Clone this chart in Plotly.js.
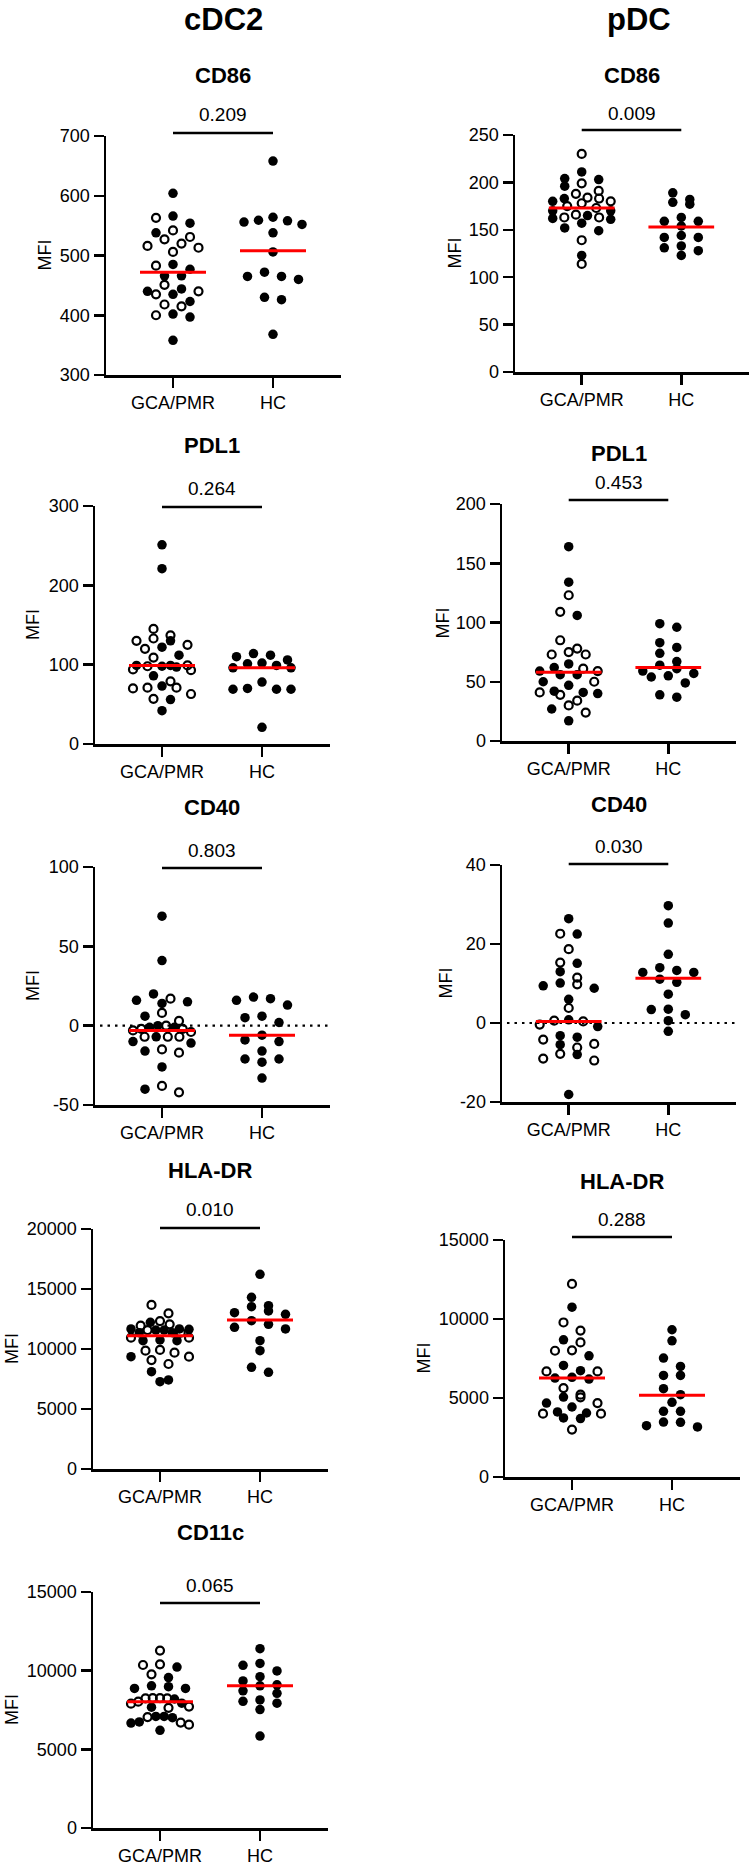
<!DOCTYPE html>
<html>
<head>
<meta charset="utf-8">
<script src="https://cdn.plot.ly/plotly-3.0.1.min.js"></script>
<style>body{margin:0;background:#fff}</style>
</head>
<body>
<div id="chart" style="width:754px;height:1866px"></div>
<script>
// group names on the x axis
var groups = ["GCA/PMR", "HC"];

// cDC2 CD86 (GCA/PMR split into filled and open symbols)
var cdc2_cd86_fill = [604, 566, 554, 538, 485, 477, 466, 466, 444, 440, 435, 423, 402, 397, 358];
var cdc2_cd86_open = [563, 542, 531, 527, 520, 516, 513, 506, 483, 451, 440, 435, 418, 415, 400];
var cdc2_cd86_hc = [658, 564, 559, 558, 556, 552, 538, 506, 472, 465, 465, 460, 430, 426, 368];
var cdc2_cd86_med = [472, 508];

// pDC CD86
var pdc_cd86_fill = [211, 204, 203, 196, 183, 180, 170, 170, 165, 162, 161, 157, 152, 149, 123];
var pdc_cd86_open = [230, 199, 191, 188, 184, 183, 180, 178, 175, 173, 166, 163, 163, 139, 114];
var pdc_cd86_hc = [189, 182, 179, 177, 163, 159, 159, 154, 144, 142, 142, 133, 131, 128, 123];
var pdc_cd86_med = [173, 153];

// cDC2 PDL1
var cdc2_pdl1_fill = [251, 221, 130, 122, 112, 99, 99, 98, 97, 86, 73, 56, 42];
var cdc2_pdl1_open = [145, 137, 133, 130, 125, 120, 109, 99, 98, 94, 93, 79, 71, 71, 70, 63, 57];
var cdc2_pdl1_hc = [114, 112, 110, 106, 102, 101, 99, 96, 96, 78, 70, 69, 69, 69, 21];
var cdc2_pdl1_med = [99, 96];

// pDC PDL1
var pdc_pdl1_fill = [164, 134, 106, 65, 62, 59, 56, 56, 50, 47, 42, 41, 40, 27, 17];
var pdc_pdl1_open = [123, 109, 85, 78, 75, 73, 73, 61, 59, 50, 41, 39, 34, 30, 24];
var pdc_pdl1_hc = [99, 96, 83, 79, 74, 67, 64, 61, 59, 57, 55, 54, 49, 39, 37];
var pdc_pdl1_med = [58, 62];

// cDC2 CD40
var cdc2_cd40_fill = [69, 41, 20, 16, 15, 14, 6, 0, -1, -1, -7, -10, -11, -16, -26, -40];
var cdc2_cd40_open = [17, 8, 3, 0, -2, -2, -3, -4, -7, -7, -7, -15, -17, -38, -42];
var cdc2_cd40_hc = [18, 17, 16, 13, 6, 5, 2, -6, -9, -10, -16, -21, -21, -23, -33];
var cdc2_cd40_med = [-3, -6];

// pDC CD40
var pdc_cd40_fill = [26.4, 22.5, 15.1, 13, 10.1, 9.4, 8.8, 6, 0.8, -0.9, -3.2, -3.6, -5.5, -8, -18.1];
var pdc_cd40_open = [22.6, 18.7, 15.3, 11.5, 9.8, 3.8, 0.6, 0.4, -0.4, -4.2, -5.3, -6.2, -7.8, -9, -9.5];
var pdc_cd40_hc = [29.7, 25.3, 17.4, 14, 13.3, 12.8, 12.8, 11.1, 10.3, 7.3, 3.5, 3.4, 2.1, 0.6, -2.1];
var pdc_cd40_med = [0.4, 11.3];

// cDC2 HLA-DR
var cdc2_hla_fill = [12220, 11670, 11670, 11640, 11580, 11580, 11360, 11360, 10750, 10690, 10690, 9360, 8110, 7420, 7280];
var cdc2_hla_open = [13670, 12970, 12330, 12060, 11940, 11580, 11360, 10940, 10940, 9920, 9860, 9690, 9360, 9080, 8750];
var cdc2_hla_hc = [16220, 14310, 13610, 13530, 13170, 13030, 12890, 12360, 12060, 11810, 11670, 10690, 9860, 8470, 8060];
var cdc2_hla_med = [11110, 12420];

// pDC HLA-DR
var pdc_hla_fill = [10750, 8680, 7670, 7060, 6730, 6310, 6260, 6200, 5060, 4680, 4430, 4120, 4050, 3740, 3700];
var pdc_hla_open = [12220, 9780, 9270, 8520, 8020, 7990, 6680, 6680, 5630, 5210, 5040, 4680, 4010, 4010, 3000];
var pdc_hla_hc = [9320, 8620, 7530, 7000, 6430, 6430, 5590, 5210, 4730, 4160, 4160, 3480, 3460, 3250, 3170];
var pdc_hla_med = [6260, 5170];

// cDC2 CD11c
var cdc2_cd11c_fill = [10230, 9560, 9040, 8980, 8870, 8870, 8200, 7930, 7680, 7090, 7090, 7010, 6740, 6670, 6210];
var cdc2_cd11c_open = [11280, 10400, 10360, 9770, 8260, 8260, 8240, 8240, 8030, 7900, 7720, 7640, 7050, 6700, 6570];
var cdc2_cd11c_hc = [11400, 10460, 10340, 9980, 9620, 9350, 9100, 9040, 8720, 8560, 8140, 8050, 7930, 7530, 5840];
var cdc2_cd11c_med = [8030, 9040];

var W = 754, H = 1866;
var FONT = "Arial, 'Liberation Sans', sans-serif";
var XR = [-0.67, 1.68];

// box = [left, right, top, bottom] of the axes in pixels
var panels = [
  {title: "CD86", p: "0.209", fill: cdc2_cd86_fill, open: cdc2_cd86_open, hc: cdc2_cd86_hc, med: cdc2_cd86_med,
   range: [300, 700], dtick: 100, box: [106, 341, 136, 375], titleY: 76, pY: 115, barY: 133, mfiX: 45},
  {title: "CD86", p: "0.009", fill: pdc_cd86_fill, open: pdc_cd86_open, hc: pdc_cd86_hc, med: pdc_cd86_med,
   range: [0, 250], dtick: 50, box: [515, 749, 135, 372], titleY: 76, pY: 113, barY: 130, mfiX: 454},
  {title: "PDL1", p: "0.264", fill: cdc2_pdl1_fill, open: cdc2_pdl1_open, hc: cdc2_pdl1_hc, med: cdc2_pdl1_med,
   range: [0, 300], dtick: 100, box: [95, 330, 506, 744], titleY: 445, pY: 488, barY: 507, mfiX: 33},
  {title: "PDL1", p: "0.453", fill: pdc_pdl1_fill, open: pdc_pdl1_open, hc: pdc_pdl1_hc, med: pdc_pdl1_med,
   range: [0, 200], dtick: 50, box: [502, 736, 504, 741], titleY: 453, pY: 483, barY: 500, mfiX: 442},
  {title: "CD40", p: "0.803", fill: cdc2_cd40_fill, open: cdc2_cd40_open, hc: cdc2_cd40_hc, med: cdc2_cd40_med,
   range: [-50, 100], dtick: 50, box: [95, 330, 867, 1105], titleY: 807, pY: 850, barY: 868, mfiX: 33, zero: true},
  {title: "CD40", p: "0.030", fill: pdc_cd40_fill, open: pdc_cd40_open, hc: pdc_cd40_hc, med: pdc_cd40_med,
   range: [-20, 40], dtick: 20, box: [502, 736, 865, 1102], titleY: 805, pY: 846, barY: 864, mfiX: 445, zero: true},
  {title: "HLA-DR", p: "0.010", fill: cdc2_hla_fill, open: cdc2_hla_open, hc: cdc2_hla_hc, med: cdc2_hla_med,
   range: [0, 20000], dtick: 5000, box: [93, 328, 1229, 1469], titleY: 1170, pY: 1209, barY: 1228, mfiX: 12},
  {title: "HLA-DR", p: "0.288", fill: pdc_hla_fill, open: pdc_hla_open, hc: pdc_hla_hc, med: pdc_hla_med,
   range: [0, 15000], dtick: 5000, box: [505, 740, 1240, 1477], titleY: 1181, pY: 1219, barY: 1237, mfiX: 423},
  {title: "CD11c", p: "0.065", fill: cdc2_cd11c_fill, open: cdc2_cd11c_open, hc: cdc2_cd11c_hc, med: cdc2_cd11c_med,
   range: [0, 15000], dtick: 5000, box: [93, 328, 1592, 1828], titleY: 1532, pY: 1585, barY: 1603, mfiX: 12}
];

// Prism-like scatter: points binned into rows, each row spread around the centre
function swarm(vals, pyPerUnit, pxPerX) {
  var binH = 8.5, step = 17, maxW = 58;
  var order = vals.map(function (v, i) { return i; }).sort(function (a, b) { return vals[b] - vals[a]; });
  var rows = [];
  order.forEach(function (i) {
    var y = vals[i] * pyPerUnit;
    var r = rows[rows.length - 1];
    if (r && r.top - y < binH) r.items.push(i);
    else rows.push({top: y, items: [i]});
  });
  var out = new Array(vals.length);
  rows.forEach(function (r) {
    var n = r.items.length;
    var s = n > 1 ? Math.min(step, maxW / (n - 1)) : 0;
    // slots ordered centre-out, alternating sides
    var slots = [];
    for (var k = 0; k < n; k++) slots.push((k - (n - 1) / 2) * s);
    slots.sort(function (a, b) { return Math.abs(a) - Math.abs(b) || a - b; });
    r.items.forEach(function (i, k) { out[i] = slots[k] / pxPerX; });
  });
  return out;
}

var px = function (x) { return x / W; };
var py = function (y) { return 1 - y / H; };

var data = [];
var layout = {
  width: W, height: H,
  margin: {l: 0, r: 0, t: 0, b: 0},
  paper_bgcolor: "white", plot_bgcolor: "white",
  showlegend: false,
  font: {family: FONT, size: 18, color: "black"},
  shapes: [], annotations: []
};

panels.forEach(function (pn, i) {
  var n = i === 0 ? "" : String(i + 1);
  var xa = "x" + n, ya = "y" + n;
  var b = pn.box;
  var pyPerUnit = (b[3] - b[2]) / (pn.range[1] - pn.range[0]);
  var pxPerX = (b[1] - b[0]) / (XR[1] - XR[0]);

  var tv = [];
  for (var t = pn.range[0]; t <= pn.range[1]; t += pn.dtick) tv.push(t);

  layout["xaxis" + n] = {
    domain: [px(b[0]), px(b[1])], anchor: ya, range: XR,
    tickvals: [0, 1], ticktext: groups,
    showline: true, linewidth: 2.5, linecolor: "black",
    ticks: "outside", ticklen: 10, tickwidth: 2.5, tickcolor: "black",
    showgrid: false, zeroline: false, fixedrange: true,
    tickfont: {size: 18}
  };
  layout["yaxis" + n] = {
    domain: [py(b[3]), py(b[2])], anchor: xa, range: pn.range,
    tickvals: tv, ticktext: tv.map(function (v) { return String(v); }),
    showline: true, linewidth: 2.5, linecolor: "black",
    ticks: "outside", ticklen: 10, tickwidth: 2.5, tickcolor: "black",
    showgrid: false, zeroline: false, fixedrange: true,
    tickfont: {size: 18}
  };

  // GCA/PMR swarm uses both symbol types together
  var gca = pn.fill.concat(pn.open);
  var offG = swarm(gca, pyPerUnit, pxPerX);
  var offH = swarm(pn.hc, pyPerUnit, pxPerX);
  var nf = pn.fill.length;

  data.push({
    type: "scatter", mode: "markers", xaxis: xa, yaxis: ya, cliponaxis: false,
    x: pn.fill.map(function (v, k) { return offG[k]; }), y: pn.fill,
    marker: {color: "black", size: 9.5}
  });
  data.push({
    type: "scatter", mode: "markers", xaxis: xa, yaxis: ya, cliponaxis: false,
    x: pn.open.map(function (v, k) { return offG[nf + k]; }), y: pn.open,
    marker: {symbol: "circle-open", color: "black", size: 8, line: {width: 2.2}}
  });
  data.push({
    type: "scatter", mode: "markers", xaxis: xa, yaxis: ya, cliponaxis: false,
    x: pn.hc.map(function (v, k) { return 1 + offH[k]; }), y: pn.hc,
    marker: {color: "black", size: 9.5}
  });
  // median lines
  pn.med.forEach(function (m, g) {
    data.push({
      type: "scatter", mode: "lines", xaxis: xa, yaxis: ya, cliponaxis: false,
      x: [g - 0.33, g + 0.33], y: [m, m],
      line: {color: "#ff0000", width: 3}
    });
  });

  if (pn.zero) {
    layout.shapes.push({
      type: "line", xref: xa, yref: ya, x0: XR[0] + 0.05, x1: XR[1], y0: 0, y1: 0,
      layer: "below", line: {color: "black", width: 2.2, dash: "2.5px,5px"}
    });
  }
  // significance bracket
  layout.shapes.push({
    type: "line", xref: xa, yref: "paper", x0: 0, x1: 1, y0: py(pn.barY), y1: py(pn.barY),
    line: {color: "black", width: 2.5}
  });

  layout.annotations.push({
    text: "<b>" + pn.title + "</b>", xref: xa, yref: "paper", x: 0.5, y: py(pn.titleY),
    xanchor: "center", yanchor: "middle", showarrow: false, font: {size: 22}
  });
  layout.annotations.push({
    text: pn.p, xref: xa, yref: "paper", x: 0.5, y: py(pn.pY),
    xanchor: "center", yanchor: "middle", showarrow: false, font: {size: 19}
  });
  layout.annotations.push({
    text: "MFI", xref: "paper", yref: "paper", x: px(pn.mfiX), y: py((b[2] + b[3]) / 2),
    xanchor: "center", yanchor: "middle", textangle: -90, showarrow: false, font: {size: 18}
  });
});

// column headers
layout.annotations.push({
  text: "<b>cDC2</b>", xref: "paper", yref: "paper", x: px(223), y: py(19),
  xanchor: "center", yanchor: "middle", showarrow: false, font: {size: 31}
});
layout.annotations.push({
  text: "<b>pDC</b>", xref: "paper", yref: "paper", x: px(639), y: py(19),
  xanchor: "center", yanchor: "middle", showarrow: false, font: {size: 31}
});

Plotly.newPlot("chart", data, layout, {displayModeBar: false, staticPlot: true});
</script>
</body>
</html>
